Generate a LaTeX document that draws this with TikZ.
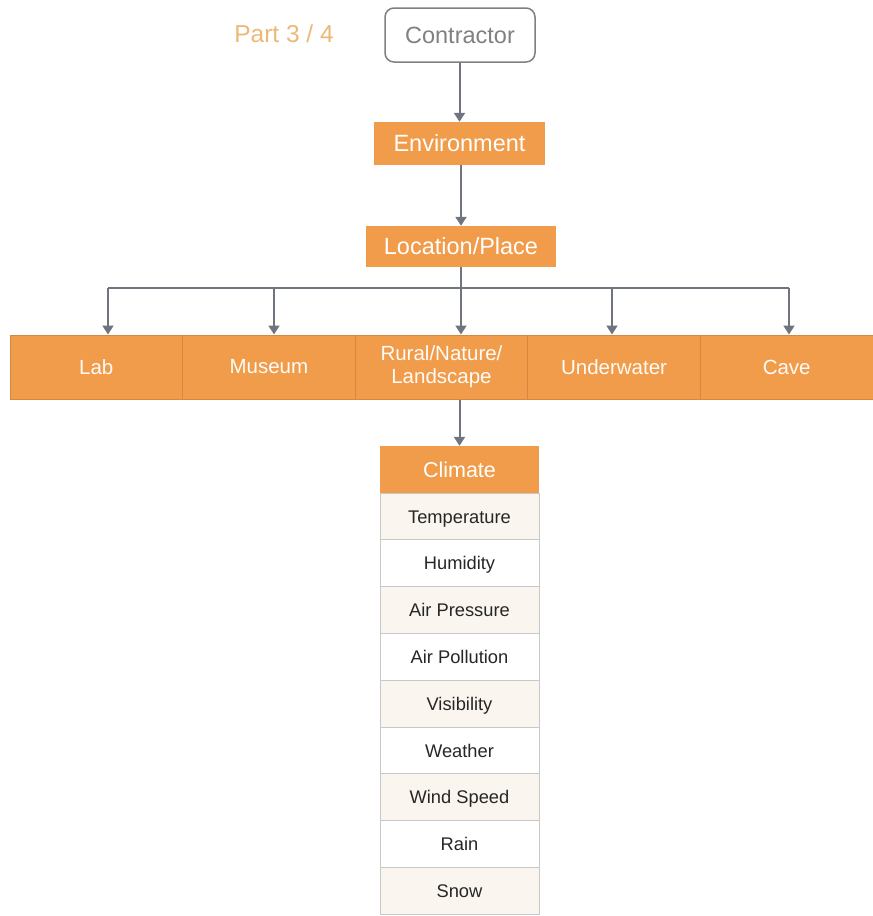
\documentclass[tikz,border=0pt]{standalone}
\usepackage{fontspec}
\setmainfont{Liberation Sans}
\usetikzlibrary{arrows.meta}
\definecolor{boxorange}{RGB}{240,156,74}
\definecolor{celldiv}{RGB}{214,136,62}
\definecolor{arrowgray}{RGB}{112,116,126}
\definecolor{partcol}{RGB}{236,184,118}
\definecolor{framegray}{RGB}{128,128,128}
\definecolor{rowlight}{RGB}{250,246,239}
\definecolor{rowline}{RGB}{200,200,200}
\begin{document}
\begin{tikzpicture}[x=1pt,y=-1pt,
  arr/.style={draw=arrowgray,line width=2pt,-{Triangle[width=11pt,length=9pt]}},
  bus/.style={draw=arrowgray,line width=2pt},
  topbox/.style={draw=framegray,line width=1.5pt,rounded corners=9pt,fill=white,
    minimum width=150pt,minimum height=54pt,inner sep=0pt,text=framegray,
    text height=16.9pt,text depth=0pt,font=\fontsize{23.5}{26}\selectfont},
  orangebox/.style={fill=boxorange,inner sep=0pt,text=white,
    text height=16.9pt,text depth=0pt,font=\fontsize{23.5}{26}\selectfont},
  cell/.style={fill=boxorange,draw=celldiv,line width=1pt,inner sep=0pt,
    minimum width=172.6pt,minimum height=64pt,text=white!96!boxorange,align=center,
    font=\fontsize{20.5}{23}\selectfont},
  item/.style={draw=rowline,line width=1pt,inner sep=0pt,minimum width=159pt,
    minimum height=46.8pt,text=black!85,text height=13.2pt,text depth=0pt,
    font=\fontsize{18.3}{21}\selectfont},
  itemlight/.style={item,fill=rowlight},
  itemwhite/.style={item,fill=white}]
\useasboundingbox (0,0) rectangle (873,916);

% header
\node[text=partcol,text height=17.5pt,text depth=0pt,
  font=\fontsize{24.5}{27}\selectfont] (part) at (284,34) {Part 3 / 4};
\node[topbox] (contractor) at (460,35) {Contractor};
\node[orangebox,minimum width=171pt,minimum height=43pt] (env) at (459.5,143.5) {Environment};
\node[orangebox,minimum width=190pt,minimum height=41pt] (loc) at (461,246.5) {Location/Place};

% row of places
\node[cell] (lab) at (96.3,367) {Lab};
\node[cell] (museum) at (268.9,367) {Museum};
\node[cell] (rural) at (441.5,367) {Rural/Nature/\\Landscape};
\node[cell] (underwater) at (614.1,367) {Underwater};
\node[cell] (cave) at (786.7,367) {Cave};

% climate column
\node[orangebox,minimum width=159pt,minimum height=47pt,text height=15.5pt,
  text depth=0pt,font=\fontsize{21.5}{24}\selectfont] (climate) at (459.5,469.5) {Climate};
\node[itemlight] (temp) at (459.5,516.4) {Temperature};
\node[itemwhite] (hum) at (459.5,563.2) {Humidity};
\node[itemlight] (press) at (459.5,610.0) {Air Pressure};
\node[itemwhite] (poll) at (459.5,656.8) {Air Pollution};
\node[itemlight] (vis) at (459.5,703.6) {Visibility};
\node[itemwhite] (weather) at (459.5,750.4) {Weather};
\node[itemlight] (wind) at (459.5,797.2) {Wind Speed};
\node[itemwhite] (rain) at (459.5,844.0) {Rain};
\node[itemlight] (snow) at (459.5,890.8) {Snow};

% connectors
\draw[arr] (contractor.south -| env.north) -- (env.north);
\draw[arr] (env.south -| loc.north) -- (loc.north);
\coordinate (bl) at (108,288);
\coordinate (bm) at (274,288);
\coordinate (bu) at (612,288);
\coordinate (br) at (789,288);
\draw[bus] (bl) -- (br);
\draw[arr] (loc.south) -- (loc.south |- rural.north);
\draw[arr] (bl) -- (bl |- lab.north);
\draw[arr] (bm) -- (bm |- museum.north);
\draw[arr] (bu) -- (bu |- underwater.north);
\draw[arr] (br) -- (br |- cave.north);
\draw[arr] (rural.south -| climate.north) -- (climate.north);
\end{tikzpicture}
\end{document}
